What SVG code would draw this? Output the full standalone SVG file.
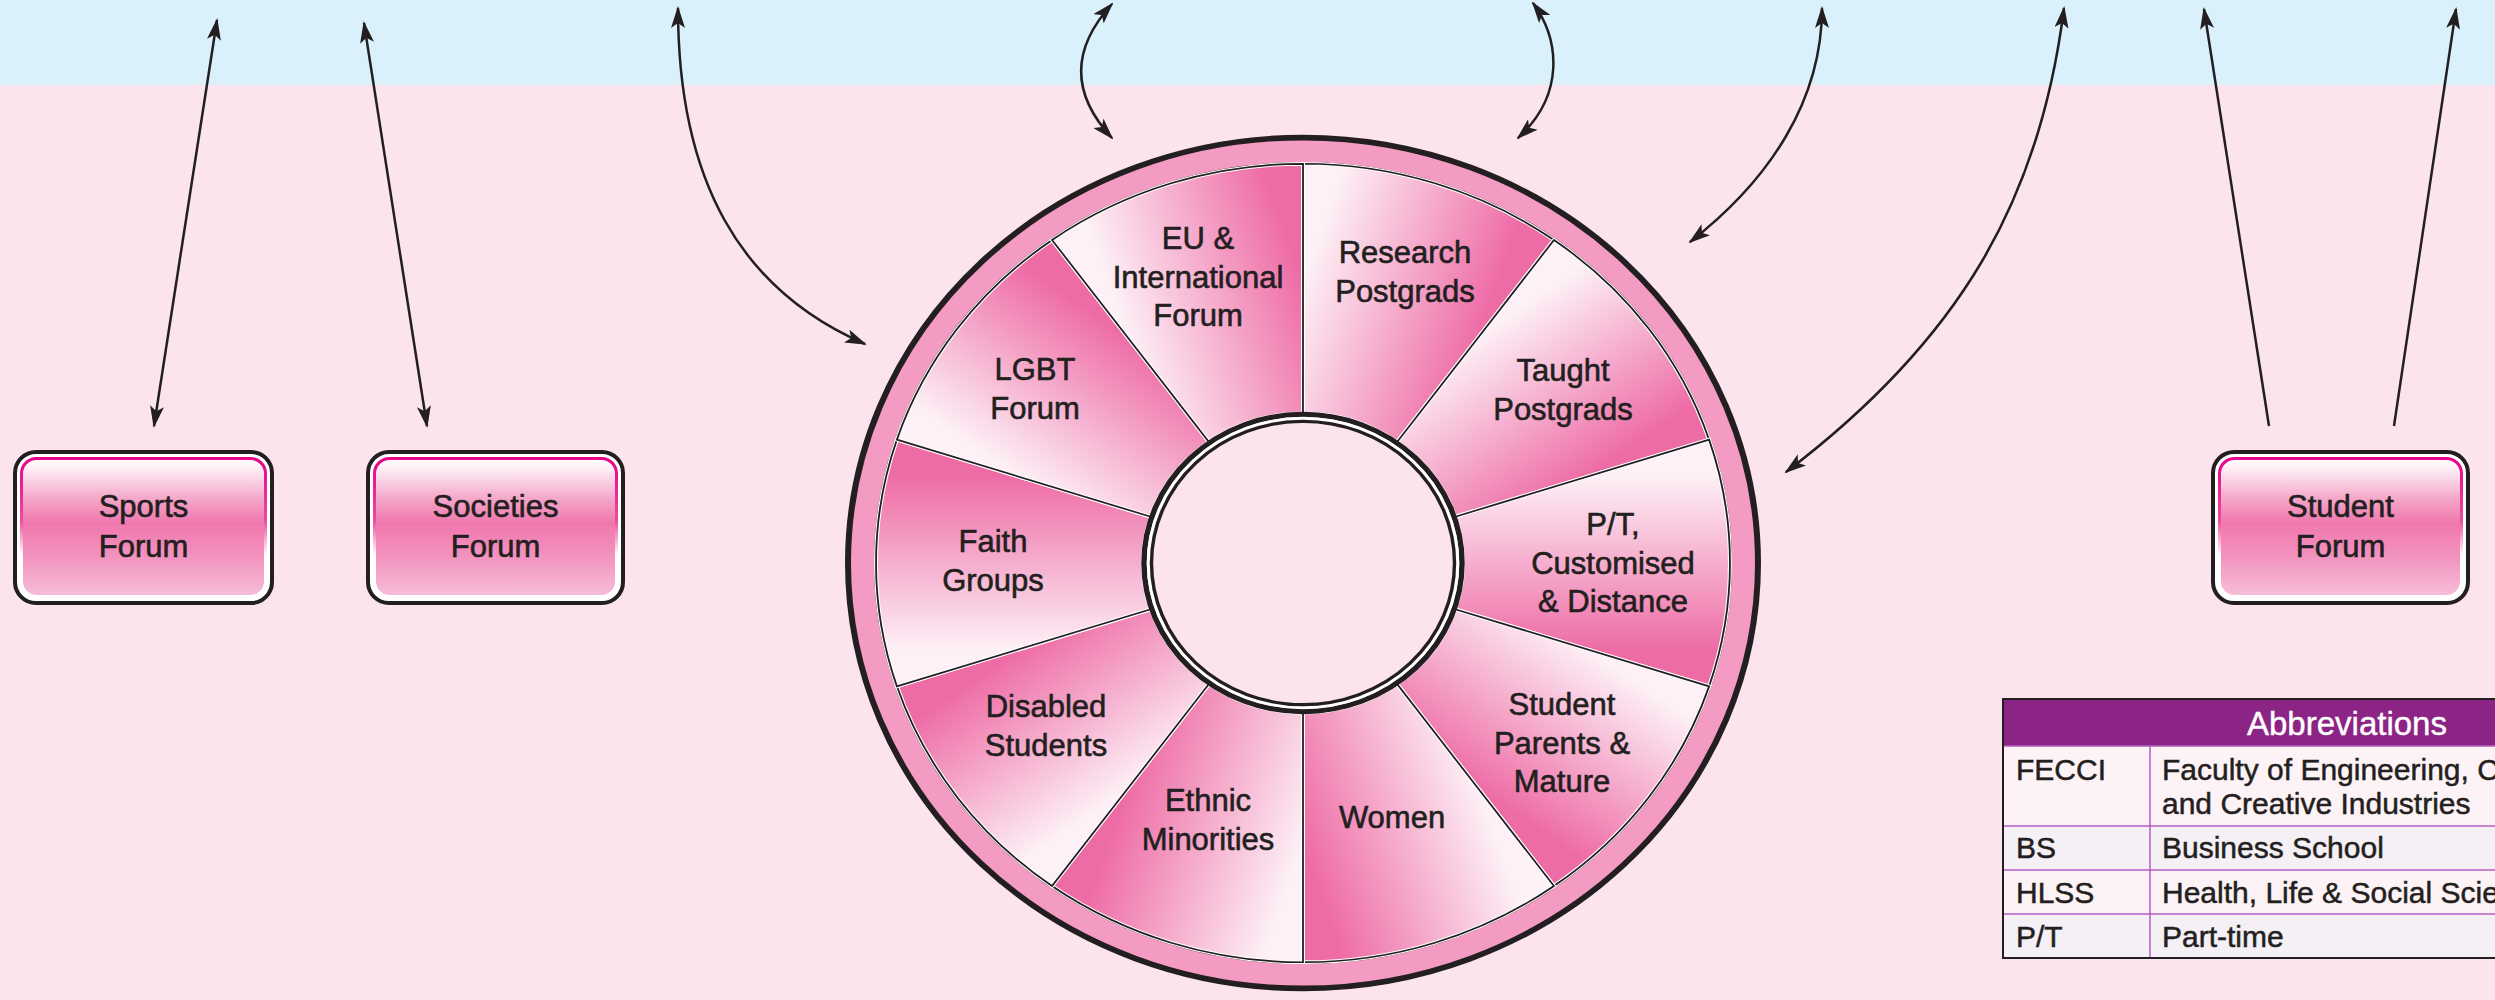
<svg xmlns="http://www.w3.org/2000/svg" xmlns:xlink="http://www.w3.org/1999/xlink" width="2495" height="1000" viewBox="0 0 2495 1000">
<style>
  .lbl { font-family: "Liberation Sans", Arial, sans-serif; font-size: 31px; fill: #231f20; stroke: #231f20; stroke-width: 0.6; text-anchor: middle; }
  .tbl { font-family: "Liberation Sans", Arial, sans-serif; font-size: 30px; fill: #231f20; stroke: #231f20; stroke-width: 0.5; }
  .hdr { font-family: "Liberation Sans", Arial, sans-serif; font-size: 33px; fill: #ffffff; stroke: #ffffff; stroke-width: 0.4; }
  .conn { fill: none; stroke: #231f20; stroke-width: 2.5; }
  .boxOuter { fill: #ffffff; stroke: #231f20; stroke-width: 4; }
  .boxInner { fill: url(#gBox); stroke: url(#gBoxStroke); stroke-width: 3; }
  .tline { stroke: #b160c0; stroke-width: 1.5; fill: none; }
</style>
<defs>
  <linearGradient id="gBox" x1="0" y1="0" x2="0" y2="1">
    <stop offset="0" stop-color="#ffffff"/>
    <stop offset="0.1" stop-color="#fce6f0"/>
    <stop offset="0.3" stop-color="#f4a4c8"/>
    <stop offset="0.47" stop-color="#f077ad"/>
    <stop offset="0.72" stop-color="#f294c0"/>
    <stop offset="1" stop-color="#f6bfd8"/>
  </linearGradient>
  <linearGradient id="gBoxStroke" x1="0" y1="0" x2="0" y2="1">
    <stop offset="0" stop-color="#e8008a"/>
    <stop offset="0.45" stop-color="#ee4c9c"/>
    <stop offset="0.7" stop-color="#ffffff"/>
    <stop offset="1" stop-color="#ffffff"/>
  </linearGradient>
  <linearGradient id="gSeg" gradientUnits="userSpaceOnUse" x1="0" y1="-300" x2="176.3" y2="-242.7">
    <stop offset="0" stop-color="#fdf0f6"/>
    <stop offset="1" stop-color="#ee6ca6"/>
  </linearGradient>
  <g id="seg">
    <path d="M0,-427 A427,427 0 0 1 251,-345.4 L94,-129.4 A160,160 0 0 0 0,-160 Z" fill="url(#gSeg)" stroke="#ffffff" stroke-width="4"/>
    <path d="M0,-427 A427,427 0 0 1 251,-345.4 L94,-129.4 A160,160 0 0 0 0,-160 Z" fill="none" stroke="#231f20" stroke-width="1.8"/>
  </g>
  <marker id="ah" markerUnits="userSpaceOnUse" viewBox="0 0 22 14" markerWidth="22" markerHeight="14" refX="20" refY="7" orient="auto-start-reverse">
    <path d="M0,0 L22,7 L0,14 L5,7 Z" fill="#231f20"/>
  </marker>
  <clipPath id="clipCanvas"><rect x="0" y="0" width="2495" height="1000"/></clipPath>
</defs>

<!-- background -->
<rect x="0" y="0" width="2495" height="1000" fill="#fbe4ee"/>
<rect x="0" y="0" width="2495" height="85" fill="#daf1fc"/>

<!-- wheel frame -->
<g id="wheel-frame" transform="translate(1303,563) scale(1,0.935)">
  <circle r="455" fill="#f39bc2" stroke="#231f20" stroke-width="6"/>
  <circle r="428" fill="none" stroke="#231f20" stroke-width="2"/>
</g>

<!-- segments -->
<g id="seg-research">
  <use xlink:href="#seg" href="#seg" transform="translate(1303,563) scale(1,0.935) rotate(0)"/>
  <text class="lbl" x="1405" y="263">Research<tspan x="1405" dy="38.5">Postgrads</tspan></text>
</g>
<g id="seg-taught">
  <use xlink:href="#seg" href="#seg" transform="translate(1303,563) scale(1,0.935) rotate(36)"/>
  <text class="lbl" x="1563" y="381">Taught<tspan x="1563" dy="38.5">Postgrads</tspan></text>
</g>
<g id="seg-pt">
  <use xlink:href="#seg" href="#seg" transform="translate(1303,563) scale(1,0.935) rotate(72)"/>
  <text class="lbl" x="1613" y="535">P/T,<tspan x="1613" dy="38.5">Customised</tspan><tspan x="1613" dy="38.5">&amp; Distance</tspan></text>
</g>
<g id="seg-parents">
  <use xlink:href="#seg" href="#seg" transform="translate(1303,563) scale(1,0.935) rotate(108)"/>
  <text class="lbl" x="1562" y="715">Student<tspan x="1562" dy="38.5">Parents &amp;</tspan><tspan x="1562" dy="38.5">Mature</tspan></text>
</g>
<g id="seg-women">
  <use xlink:href="#seg" href="#seg" transform="translate(1303,563) scale(1,0.935) rotate(144)"/>
  <text class="lbl" x="1392" y="828">Women</text>
</g>
<g id="seg-ethnic">
  <use xlink:href="#seg" href="#seg" transform="translate(1303,563) scale(1,0.935) rotate(180)"/>
  <text class="lbl" x="1208" y="811">Ethnic<tspan x="1208" dy="38.5">Minorities</tspan></text>
</g>
<g id="seg-disabled">
  <use xlink:href="#seg" href="#seg" transform="translate(1303,563) scale(1,0.935) rotate(216)"/>
  <text class="lbl" x="1046" y="717">Disabled<tspan x="1046" dy="38.5">Students</tspan></text>
</g>
<g id="seg-faith">
  <use xlink:href="#seg" href="#seg" transform="translate(1303,563) scale(1,0.935) rotate(252)"/>
  <text class="lbl" x="993" y="552">Faith<tspan x="993" dy="38.5">Groups</tspan></text>
</g>
<g id="seg-lgbt">
  <use xlink:href="#seg" href="#seg" transform="translate(1303,563) scale(1,0.935) rotate(288)"/>
  <text class="lbl" x="1035" y="380">LGBT<tspan x="1035" dy="38.5">Forum</tspan></text>
</g>
<g id="seg-eu">
  <use xlink:href="#seg" href="#seg" transform="translate(1303,563) scale(1,0.935) rotate(324)"/>
  <text class="lbl" x="1198" y="249">EU &amp;<tspan x="1198" dy="38.5">International</tspan><tspan x="1198" dy="38.5">Forum</tspan></text>
</g>

<!-- hub -->
<g id="hub" transform="translate(1303,563) scale(1,0.935)">
  <circle r="159" fill="#fbe4ee" stroke="#231f20" stroke-width="5.5"/>
  <circle r="154.8" fill="none" stroke="#ffffff" stroke-width="3"/>
  <circle r="151.5" fill="none" stroke="#231f20" stroke-width="3.4"/>
</g>

<!-- boxes -->
<g id="sports-forum">
  <rect class="boxOuter" x="15" y="452" width="257" height="151" rx="21"/>
  <rect class="boxInner" x="21.5" y="458.5" width="244" height="138" rx="15"/>
  <text class="lbl" x="143.5" y="517">Sports<tspan x="143.5" dy="40">Forum</tspan></text>
</g>
<g id="societies-forum">
  <rect class="boxOuter" x="368" y="452" width="255" height="151" rx="21"/>
  <rect class="boxInner" x="374.5" y="458.5" width="242" height="138" rx="15"/>
  <text class="lbl" x="495.5" y="517">Societies<tspan x="495.5" dy="40">Forum</tspan></text>
</g>
<g id="student-forum">
  <rect class="boxOuter" x="2213" y="452" width="255" height="151" rx="21"/>
  <rect class="boxInner" x="2219.5" y="458.5" width="242" height="138" rx="15"/>
  <text class="lbl" x="2340.5" y="517">Student<tspan x="2340.5" dy="40">Forum</tspan></text>
</g>

<!-- connectors -->
<g id="connectors">
  <path class="conn" d="M217,20 L154,426" marker-start="url(#ah)" marker-end="url(#ah)"/>
  <path class="conn" d="M364,23 L427,426" marker-start="url(#ah)" marker-end="url(#ah)"/>
  <path class="conn" d="M678,8 C678,180 740,290 865,344" marker-start="url(#ah)" marker-end="url(#ah)"/>
  <path class="conn" d="M1112,4 C1070,50 1072,95 1112,138" marker-start="url(#ah)" marker-end="url(#ah)"/>
  <path class="conn" d="M1533,3 C1560,40 1565,95 1518,138" marker-start="url(#ah)" marker-end="url(#ah)"/>
  <path class="conn" d="M1822,8 C1822,100 1770,180 1690,242" marker-start="url(#ah)" marker-end="url(#ah)"/>
  <path class="conn" d="M2064,8 C2040,200 1960,340 1786,472" marker-start="url(#ah)" marker-end="url(#ah)"/>
  <path class="conn" d="M2269,426 L2204,9" marker-end="url(#ah)"/>
  <path class="conn" d="M2394,426 L2456,9" marker-end="url(#ah)"/>
</g>

<!-- abbreviations table -->
<g id="abbreviations" clip-path="url(#clipCanvas)">
  <rect x="2003" y="699" width="520" height="47" fill="#8c2486"/>
  <rect x="2003" y="746" width="520" height="80" fill="#fdf3f6"/>
  <rect x="2003" y="826" width="520" height="44" fill="#f5eff6"/>
  <rect x="2003" y="870" width="520" height="44" fill="#fdf3f6"/>
  <rect x="2003" y="914" width="520" height="44" fill="#f5eff6"/>
  <line class="tline" x1="2003" y1="746" x2="2523" y2="746"/>
  <line class="tline" x1="2003" y1="826" x2="2523" y2="826"/>
  <line class="tline" x1="2003" y1="870" x2="2523" y2="870"/>
  <line class="tline" x1="2003" y1="914" x2="2523" y2="914"/>
  <line class="tline" x1="2150" y1="746" x2="2150" y2="958"/>
  <rect x="2003" y="699" width="520" height="259" fill="none" stroke="#231f20" stroke-width="2"/>
  <text class="hdr" x="2247" y="735">Abbreviations</text>
  <text class="tbl" x="2016" y="780">FECCI</text>
  <text class="tbl" x="2162" y="780">Faculty of Engineering, C</text>
  <text class="tbl" x="2162" y="814">and Creative Industries</text>
  <text class="tbl" x="2016" y="858">BS</text>
  <text class="tbl" x="2162" y="858">Business School</text>
  <text class="tbl" x="2016" y="903">HLSS</text>
  <text class="tbl" x="2162" y="903">Health, Life &amp; Social Scie</text>
  <text class="tbl" x="2016" y="947">P/T</text>
  <text class="tbl" x="2162" y="947">Part-time</text>
</g>
</svg>
